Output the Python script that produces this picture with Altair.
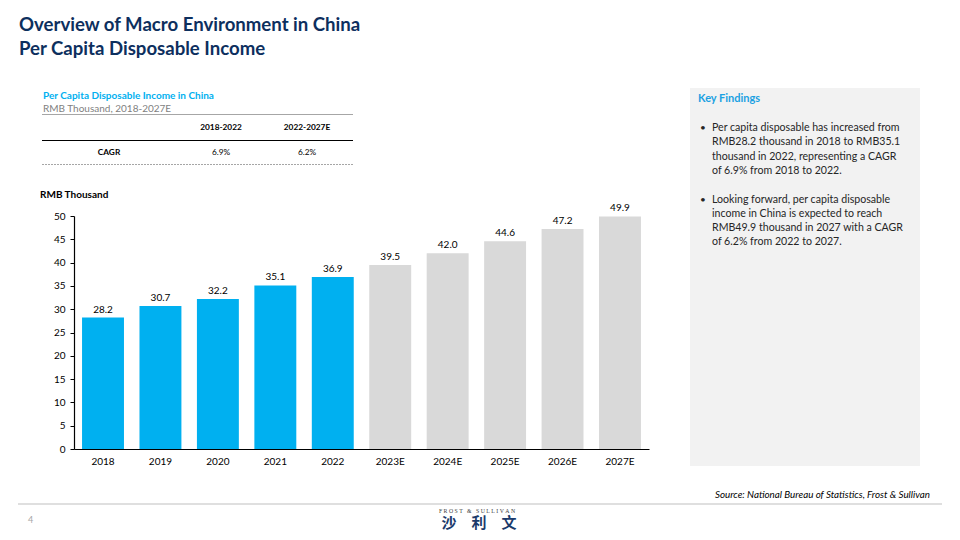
import altair as alt
import pandas as pd

# ---------------- data ----------------
years = ["2018", "2019", "2020", "2021", "2022", "2023E", "2024E", "2025E", "2026E", "2027E"]
income = [28.2, 30.7, 32.2, 35.1, 36.9, 39.5, 42.0, 44.6, 47.2, 49.9]
period = ["Historical"] * 5 + ["Forecast"] * 5
y_ticks = [0, 5, 10, 15, 20, 25, 30, 35, 40, 45, 50]

cagr_periods = ["2018-2022", "2022-2027E"]
cagr_values = ["6.9%", "6.2%"]

title_lines = ["Overview of Macro Environment in China", "Per Capita Disposable Income"]
finding_1 = [
    "Per capita disposable has increased from",
    "RMB28.2 thousand in 2018 to RMB35.1",
    "thousand in 2022, representing a CAGR",
    "of 6.9% from 2018 to 2022.",
]
finding_2 = [
    "Looking forward, per capita disposable",
    "income in China is expected to reach",
    "RMB49.9 thousand in 2027 with a CAGR",
    "of 6.2% from 2022 to 2027.",
]
source_text = "Source: National Bureau of Statistics, Frost & Sullivan"
NB = "\u00a0"
logo_en = (NB.join("FROST") + NB * 3 + "&" + NB * 3 + NB.join("SULLIVAN"))
logo_cn = "\u3000".join(["沙", "利", "文"])

# ---------------- style ----------------
FONT = "Lato"
BLUE = "#00B0F0"
GRAY_BAR = "#D9D9D9"
NAVY = "#0D2F5E"
X0, Y0 = 74, 216          # page position of the plot origin
W, H = 575, 233

df = pd.DataFrame({"year": years, "income": income, "period": period})
one = pd.DataFrame({"k": [0]})

x_enc = alt.X(
    "year:N", sort=years,
    scale=alt.Scale(paddingInner=0.27, paddingOuter=0.14),
    axis=alt.Axis(title=None, labelAngle=0, ticks=False, domainColor="black",
                  domainWidth=1.2, labelFont=FONT, labelFontSize=10,
                  labelColor="black", labelPadding=7),
)
y_enc = alt.Y(
    "income:Q",
    scale=alt.Scale(domain=[0, 50], nice=False),
    axis=alt.Axis(title=None, values=y_ticks, grid=False, tickColor="black",
                  tickSize=4, domainColor="black", domainWidth=1.2,
                  labelFont=FONT, labelFontSize=10, labelColor="black",
                  labelPadding=5, labelOverlap=False),
)

bars = alt.Chart(df).mark_bar().encode(
    x=x_enc, y=y_enc,
    color=alt.Color("period:N",
                    scale=alt.Scale(domain=["Historical", "Forecast"], range=[BLUE, GRAY_BAR]),
                    legend=None),
)
bar_labels = alt.Chart(df).mark_text(dy=-8, fontSize=10, font=FONT, color="black").encode(
    x=x_enc, y=y_enc,
    text=alt.Text("income:Q", format=".1f"),
)


def txt(s, x, y, size=10, weight="normal", color="black", align="left",
        font=FONT, style="normal"):
    return alt.Chart(one).mark_text(
        fontSize=size, fontWeight=weight, color=color, align=align,
        baseline="middle", font=font, fontStyle=style,
    ).encode(x=alt.value(x - X0), y=alt.value(y - Y0), text=alt.value(s))


def hrule(x1, x2, y, color, width=1.0, dash=None):
    kw = dict(color=color, strokeWidth=width)
    if dash:
        kw["strokeDash"] = dash
    return alt.Chart(one).mark_rule(**kw).encode(
        x=alt.value(x1 - X0), x2=alt.value(x2 - X0), y=alt.value(y - Y0))


def box(x1, x2, y1, y2, fill):
    return alt.Chart(one).mark_rect(fill=fill).encode(
        x=alt.value(x1 - X0), x2=alt.value(x2 - X0),
        y=alt.value(y1 - Y0), y2=alt.value(y2 - Y0))


layers = [box(690, 920, 88, 466, "#F2F2F2"), bars, bar_labels]

# title
layers.append(txt(title_lines[0], 19, 25, size=18.6, weight="bold", color=NAVY))
layers.append(txt(title_lines[1], 19, 49, size=18.6, weight="bold", color=NAVY))

# chart sub-header and CAGR table
layers.append(txt("Per Capita Disposable Income in China", 43, 96, size=10, weight="bold", color=BLUE))
layers.append(txt("RMB Thousand, 2018-2027E", 43, 108.5, size=10, color="#7F7F7F"))
layers.append(hrule(42, 353, 114.5, "#A6A6A6", 1))
layers.append(txt(cagr_periods[0], 221, 128, size=8.3, weight="bold", align="center"))
layers.append(txt(cagr_periods[1], 307, 128, size=8.3, weight="bold", align="center"))
layers.append(hrule(42, 353, 140.5, "black", 1.2))
layers.append(txt("CAGR", 109, 153, size=8.3, weight="bold", align="center"))
layers.append(txt(cagr_values[0], 221, 153, size=8.3, align="center"))
layers.append(txt(cagr_values[1], 307, 153, size=8.3, align="center"))
layers.append(hrule(42, 353, 164.5, "#A6A6A6", 1, [2, 1]))

layers.append(txt("RMB Thousand", 40, 195, size=10, weight="bold"))

# key findings
layers.append(txt("Key Findings", 698, 99, size=11, weight="bold", color="#1BA1E2"))
for i, line in enumerate(finding_1):
    layers.append(txt(line, 712, 128 + 14.3 * i, size=10.6, color="#262626"))
for i, line in enumerate(finding_2):
    layers.append(txt(line, 712, 199.5 + 14.3 * i, size=10.6, color="#262626"))
layers.append(txt("•", 700, 128, size=10, color="#262626"))
layers.append(txt("•", 700, 199.5, size=10, color="#262626"))

# footer
layers.append(txt(source_text, 930, 495, size=9.8, style="italic", align="right"))
layers.append(hrule(18, 942, 504, "#BFBFBF", 1))
layers.append(txt("4", 28, 520, size=9, color="#A6A6A6"))
layers.append(txt(logo_en, 477, 510.5, size=5.8, color="#404040",
                  align="center", font="Liberation Serif"))
layers.append(txt(logo_cn, 479, 523, size=15, weight="bold", color="#1B3A6B",
                  align="center", font="Noto Sans CJK SC"))

chart = alt.layer(*layers).properties(
    width=W, height=H,
    autosize=alt.AutoSizeParams(type="none"),
    padding={"left": X0 - 8, "top": Y0 - 8, "right": 295, "bottom": 82},
    background="white",
).configure_view(stroke=None)

chart.save("out.html", embed_options={"renderer": "svg", "actions": False})
